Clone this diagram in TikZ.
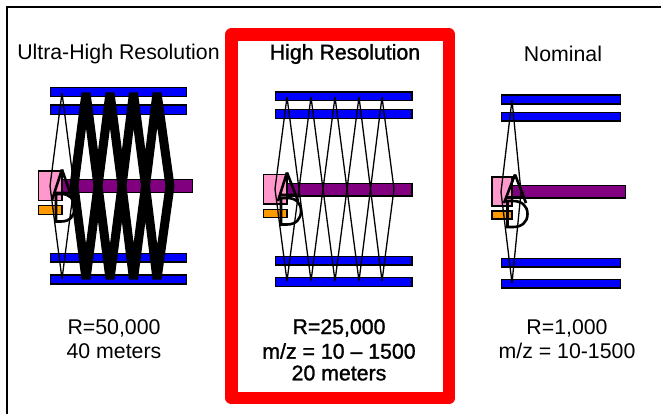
\documentclass[tikz,border=0pt]{standalone}
\usepackage{fontspec}
\setmainfont{Liberation Sans}
\newfontfamily\fakebold[FakeBold=1.3]{Liberation Sans}
\definecolor{ionblue}{RGB}{0,0,255}
\definecolor{flight}{RGB}{128,0,128}
\definecolor{source}{RGB}{255,153,204}
\definecolor{ampl}{RGB}{255,153,0}
\tikzset{
  x=1pt,y=-1pt,
  plate/.style={draw=black,line width=1.5pt,fill=ionblue},
  tube/.style={draw=black,line width=1.5pt,fill=flight},
  pinkbox/.style={draw=black,line width=1.5pt,fill=source},
  orangebox/.style={draw=black,line width=1.5pt,fill=ampl},
  beam/.style={draw=black,line width=1.3pt,line join=bevel},
  thickbeam/.style={draw=black,line width=9pt,line join=bevel},
  glyph/.style={draw=black,line width=2.6pt,line join=miter},
  lab/.style={font=\fontsize{21.3}{23}\selectfont,inner sep=0pt,anchor=center},
  blab/.style={font=\fontsize{21.3}{23}\selectfont\fakebold,inner sep=0pt,anchor=center}
}
\begin{document}
\begin{tikzpicture}
\useasboundingbox (0,0) rectangle (661,414);
\fill[white] (0,0) rectangle (661,414);
% frame
\draw[line width=2pt] (6.5,414) -- (6.5,7.5) -- (661,7.5);
% red box
\draw[red,line width=12.5pt,line join=round] (231.5,34.5) rectangle (449,398);

% LEFT
\foreach \a/\b in {87.5/96.5,105/114.5,253.5/262,275/284}
  \draw[plate] (50.5,\a) rectangle (186.5,\b);
\draw[tube] (62,179.5) rectangle (192.5,192.5);
\draw[pinkbox] (38.5,171) rectangle (62,200.5);
\draw[orangebox] (38.5,205.5) rectangle (62,214.5);
\draw[beam] (50,186) -- (62,93) -- (74,186) -- (62,279) -- cycle;
\draw[thickbeam] (74,186) -- (86,93) -- (98,186) -- (110,93) -- (122,186) -- (133.5,93) -- (145.5,186) -- (157,93) -- (170,186) -- (157,279) -- (145.5,186) -- (133.5,279) -- (122,186) -- (110,279) -- (98,186) -- (86,279) -- cycle;
\draw[glyph] (62,169.5) -- (72.5,200) (62,169.5) -- (52,200) (54.5,193) -- (70,193);
\draw[glyph] (56,194) -- (56,221.5) -- (61,221.5) .. controls (70,221.5) and (74.5,216) .. (74.5,207.5) .. controls (74.5,199) and (70,194) .. (61,194) -- cycle;

% MIDDLE
\foreach \a/\b in {92/100.5,109.5/118.5,256.5/265,277.5/286.5}
  \draw[plate] (275.5,\a) rectangle (412,\b);
\draw[tube] (287,183.5) rectangle (412,196);
\draw[pinkbox] (263.5,174.5) rectangle (287,204);
\draw[orangebox] (263.5,209.5) rectangle (287,217.5);
\draw[beam] (275,189) -- (287,97) -- (311,281) -- (335,97) -- (359,281) -- (382,97) -- (394,189) -- (382,281) -- (359,97) -- (335,281) -- (311,97) -- (287,281) -- cycle;
\draw[glyph] (287,172.5) -- (298,201) (287,172.5) -- (278,201) (280,195) -- (296,195);
\draw[glyph] (281,198) -- (281,224.5) -- (287,224.5) .. controls (296,224.5) and (301,219) .. (301,211) .. controls (301,203) and (296,198) .. (287,198) -- cycle;

% RIGHT
\foreach \a/\b in {95/104,112.5/121,258.5/267,279.5/288}
  \draw[plate] (501.5,\a) rectangle (620.5,\b);
\draw[tube] (512,185.5) rectangle (625.5,198);
\draw[pinkbox] (492,177) rectangle (512,206);
\draw[orangebox] (492,211) rectangle (512,219);
\draw[beam] (501,192) -- (512,100) -- (521,192) -- (512,283) -- cycle;
\draw[glyph] (515,174.5) -- (526,203) (515,174.5) -- (504,203) (506,197.5) -- (524,197.5);
\draw[glyph] (507.5,201) -- (507.5,227) -- (513,227) .. controls (522,227) and (527.5,222) .. (527.5,214) .. controls (527.5,206) and (522,201) .. (513,201) -- cycle;

% labels
\node[lab] (t1) at (118.5,54) {Ultra-High Resolution};
\node[blab] (t2) at (345,54) {High Resolution};
\node[lab] (t3) at (563,54) {Nominal};
\node[lab] (b1a) at (114,328) {R=50,000};
\node[lab] (b1b) at (114,351) {40 meters};
\node[blab] (b2a) at (339,328) {R=25,000};
\node[blab] (b2b) at (339,351) {m/z = 10 – 1500};
\node[blab] (b2c) at (339,373) {20 meters};
\node[lab] (b3a) at (567,328) {R=1,000};
\node[lab] (b3b) at (567,351) {m/z = 10-1500};
\end{tikzpicture}
\end{document}
